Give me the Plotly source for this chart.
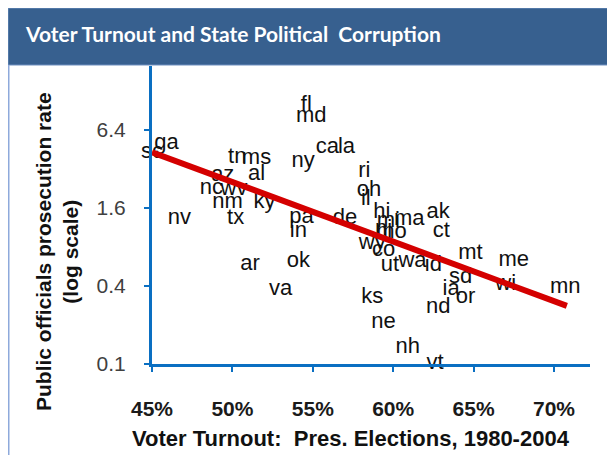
import plotly.graph_objects as go

# State labels, voter turnout (fraction) and prosecution rate (log scale)
states = ["fl", "md", "ca", "la", "ny", "ga", "sc", "tn", "ms", "az", "al", "nc", "wv",
          "nm", "ky", "nv", "tx", "pa", "in", "de", "ri", "oh", "il", "hi", "mi", "ma",
          "nj", "mo", "ak", "ct", "mt", "me", "mn", "wi", "sd", "ia", "or", "nd", "ks",
          "ne", "nh", "vt", "ar", "ok", "va", "wy", "co", "ut", "wa", "id"]
turnout = [0.546, 0.549, 0.559, 0.571, 0.544, 0.459, 0.450, 0.503, 0.515, 0.494, 0.515,
           0.487, 0.501, 0.497, 0.520, 0.467, 0.502, 0.543, 0.541, 0.570, 0.582, 0.585,
           0.583, 0.593, 0.597, 0.610, 0.594, 0.599, 0.628, 0.630, 0.648, 0.675, 0.707,
           0.670, 0.642, 0.636, 0.645, 0.628, 0.587, 0.594, 0.609, 0.626, 0.511, 0.541,
           0.530, 0.587, 0.594, 0.598, 0.612, 0.625]
prosecution = [9.8, 8.06, 4.65, 4.65, 3.62, 4.99, 4.25, 3.89, 3.82, 2.84, 2.88, 2.24, 2.20,
               1.75, 1.75, 1.32, 1.32, 1.36, 1.05, 1.32, 3.03, 2.16, 1.85, 1.47, 1.25, 1.29,
               1.08, 1.03, 1.47, 1.06, 0.706, 0.624, 0.386, 0.408, 0.462, 0.373, 0.324,
               0.271, 0.324, 0.207, 0.133, 0.1, 0.581, 0.613, 0.373, 0.844, 0.745, 0.571,
               0.613, 0.571]

# Trend line end points
trend_x = [0.450, 0.708]
trend_y = [4.3, 0.28]

y_ticks = [0.1, 0.4, 1.6, 6.4]
y_tick_text = ["0.1", "0.4", "1.6", "6.4"]

FONT = "Arial, 'Liberation Sans', sans-serif"
AXIS_BLUE = "#0A6FC2"

fig = go.Figure()
fig.add_trace(go.Scatter(
    x=turnout, y=prosecution, text=states, mode="text",
    textposition="middle center", cliponaxis=False,
    textfont=dict(family=FONT, size=22, color="#111111"),
    hoverinfo="skip", showlegend=False))
fig.add_trace(go.Scatter(
    x=trend_x, y=trend_y, mode="lines", cliponaxis=False,
    line=dict(color="#D40000", width=6),
    hoverinfo="skip", showlegend=False))

# page has an 8px body margin; work in page pixels and convert
OFF = 8
W, H = 607, 447
L, R = 152 - OFF, 25
T = 66 - OFF
B = H - (364 - OFF)
pw, ph = W - L - R, H - T - B

def px(xp):
    return (xp - OFF - L) / pw

def py(yp):
    return (H - B - (yp - OFF)) / ph

fig.update_layout(
    width=W, height=H, autosize=False,
    margin=dict(l=L, r=R, t=T, b=B, pad=0),
    paper_bgcolor="white", plot_bgcolor="white",
    showlegend=False,
    xaxis=dict(range=[0.45, 0.7224], tickvals=[0.45, 0.50, 0.55, 0.60, 0.65, 0.70],
               tickformat=".0%", showgrid=False, zeroline=False,
               showline=True, linecolor=AXIS_BLUE, linewidth=3,
               ticks="outside", ticklen=5, tickwidth=2, tickcolor=AXIS_BLUE,
               ticklabelstandoff=19,
               tickfont=dict(family=FONT, size=21, color="#1a1a1a", weight="bold")),
    yaxis=dict(type="log", range=[-1.001, 1.299], tickvals=y_ticks, ticktext=y_tick_text,
               showgrid=False, zeroline=False,
               showline=True, linecolor=AXIS_BLUE, linewidth=3,
               ticks="outside", ticklen=5, tickwidth=2, tickcolor=AXIS_BLUE,
               ticklabelstandoff=14,
               tickfont=dict(family=FONT, size=21, color="#404040")),
    shapes=[
        dict(type="rect", xref="paper", yref="paper",
             x0=px(OFF), x1=px(625), y0=py(65), y1=py(OFF),
             fillcolor="#37608F", line=dict(color="#6F8FBF", width=1), layer="above"),
        dict(type="line", xref="paper", yref="paper",
             x0=px(OFF + 0.5), x1=px(OFF + 0.5), y0=py(65), y1=py(460),
             line=dict(color="#8EA9DB", width=2)),
    ],
    annotations=[
        dict(text="Voter Turnout and State Political \u00a0Corruption",
             xref="paper", yref="paper", x=px(23), y=py(34),
             xanchor="left", yanchor="middle", showarrow=False,
             font=dict(family="Lato, 'Open Sans', sans-serif", size=21, color="white",
                       weight="bold")),
        dict(text="Public officials prosecution rate<br>(log scale)",
             xref="paper", yref="paper", x=px(57), y=py(252),
             xanchor="center", yanchor="middle", showarrow=False, textangle=-90,
             font=dict(family=FONT, size=21, color="#111111", weight="bold")),
        dict(text="Voter Turnout: \u00a0Pres. Elections, 1980-2004",
             xref="paper", yref="paper", x=px(351), y=py(438),
             xanchor="center", yanchor="middle", showarrow=False,
             font=dict(family=FONT, size=22, color="#111111", weight="bold")),
    ],
)

fig.write_html("out.html")
